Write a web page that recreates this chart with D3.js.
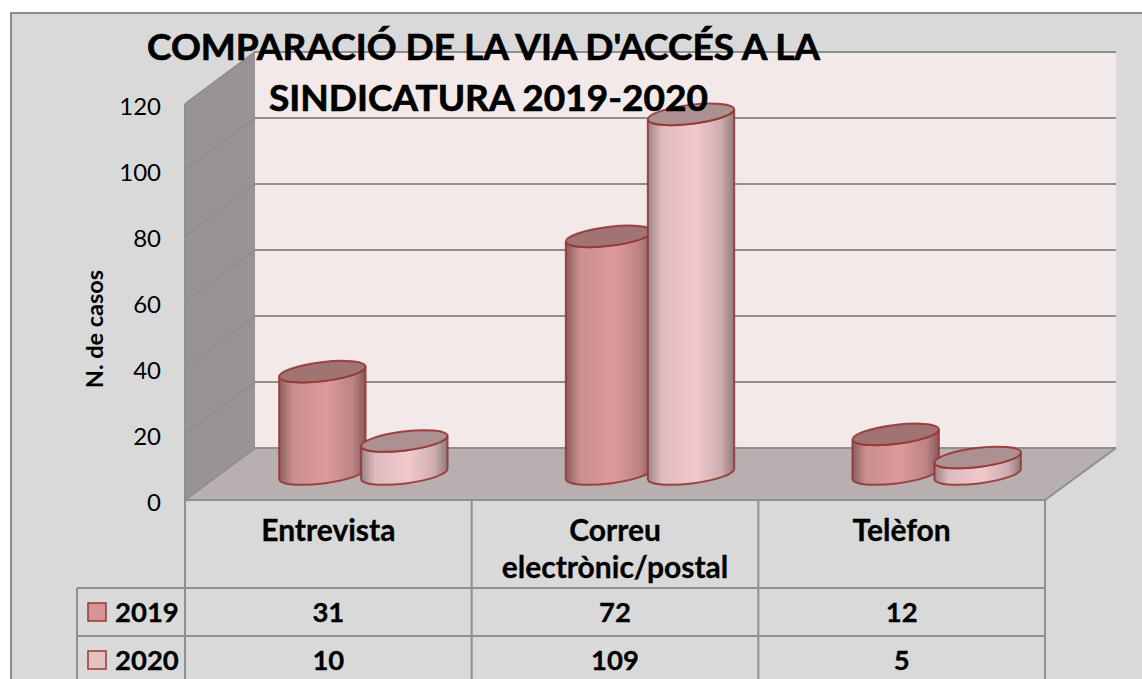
<!DOCTYPE html>
<html>
<head>
<meta charset="utf-8">
<script src="https://cdn.jsdelivr.net/npm/d3@7/dist/d3.min.js"></script>
<style>
  html, body { margin: 0; padding: 0; background: #fff; overflow: hidden; }
  text { font-family: Lato, "Open Sans", sans-serif; fill: #000; }
</style>
</head>
<body>
<svg id="chart" width="1142" height="679" style="display:block"></svg>
<script>
const categories = ["Entrevista", "Correu electrònic/postal", "Telèfon"];
const categoryLines = [["Entrevista"], ["Correu", "electrònic/postal"], ["Telèfon"]];
const seriesNames = ["2019", "2020"];
const values2019 = [31, 72, 12];
const values2020 = [10, 109, 5];
const seriesValues = [values2019, values2020];
const yTicks = [0, 20, 40, 60, 80, 100, 120];
const titleLines = ["COMPARACIÓ DE LA VIA D'ACCÉS A LA", "SINDICATURA 2019-2020"];

const GRID = "#8f8f8f";
const EDGE = "#953735";

// depth of the fake 3D box, the cylinders stand halfway in it
const depthX = 70, depthY = 52;

const x = d3.scaleBand().domain(categories).range([185, 1045]);
const y = d3.scaleLinear().domain([0, 120]).range([500, 104]);
const inner = d3.scaleBand().domain(seriesNames).range([-82, 82]).padding(0);

const svg = d3.select("#chart");

/* gradients for the cylinder bodies, dark at both edges */
const defs = svg.append("defs");
function bodyGradient(id, edgeL, mid, edgeR) {
    const g = defs.append("linearGradient").attr("id", id);
    g.append("stop").attr("offset", "0%").attr("stop-color", edgeL);
    g.append("stop").attr("offset", "16%").attr("stop-color", d3.interpolateRgb(edgeL, mid)(0.8));
    g.append("stop").attr("offset", "55%").attr("stop-color", mid);
    g.append("stop").attr("offset", "85%").attr("stop-color", d3.interpolateRgb(mid, edgeR)(0.35));
    g.append("stop").attr("offset", "100%").attr("stop-color", edgeR);
}
bodyGradient("body2019", "#8a5f5e", "#dc9a9c", "#875b5a");
bodyGradient("body2020", "#9a8484", "#f0c9cb", "#8f7a7a");
const capFill = ["#a17373", "#ad9091"];
const legendFill = ["#d69495", "#e6c1c2"];

// background
svg.append("rect").attr("width", 1142).attr("height", 679).attr("fill", "#fff");
svg.append("rect").attr("x", 11).attr("y", 13).attr("width", 1135).attr("height", 670)
    .attr("fill", "#d9d9d9").attr("stroke", "#8c8c8c").attr("stroke-width", 2);

const [x0, x1] = x.range();
const yBase = y(0), yTop = y(120);
const backPt = (px, py) => [px + depthX, py - depthY];
const line = d3.line();

// back wall, side wall, floor
svg.append("rect")
    .attr("x", x0 + depthX).attr("y", yTop - depthY)
    .attr("width", x1 - x0 + 1).attr("height", yBase - yTop)
    .attr("fill", "#f4e9e9");
svg.append("path")
    .attr("d", line([[x0, yTop], backPt(x0, yTop), backPt(x0, yBase), [x0, yBase]]) + "Z")
    .attr("fill", "#999393");
svg.append("path")
    .attr("d", line([[x0, yBase], backPt(x0, yBase), backPt(x1 + 1, yBase), [x1, yBase]]) + "Z")
    .attr("fill", "#b7afb0");

// gridlines run along the side wall then across the back
const grid = svg.append("g").attr("fill", "none").attr("stroke", GRID).attr("stroke-width", 2);
grid.selectAll("path")
    .data(yTicks)
    .enter()
    .append("path")
    .attr("d", d => line([[x0, y(d)], backPt(x0, y(d)), backPt(x1 + 1, y(d))]));
grid.append("path").attr("d", line([[x0, yTop], [x0, yBase], [x1, yBase], backPt(x1 + 1, yBase)]));

// cylinders
const rx = 43.5, ry = 9.5, tilt = -7;
const midDepthX = depthX / 2, midDepthY = depthY / 2;
const bars = [];
categories.forEach((c, i) => {
    seriesNames.forEach((s, j) => {
        bars.push({ c, s, j, v: seriesValues[j][i] });
    });
});

const rad = tilt * Math.PI / 180;
const dx = rx * Math.cos(rad), dy = rx * Math.sin(rad);
const barX = d => x(d.c) + x.bandwidth() / 2 + midDepthX + inner(d.s) + inner.bandwidth() / 2;

function bodyPath(d) {
    const cx = barX(d);
    const b = y(0) - midDepthY, t = y(d.v) - midDepthY;
    return `M${cx - dx},${t - dy}L${cx - dx},${b - dy}` +
        `A${rx},${ry} ${tilt} 0 0 ${cx + dx},${b + dy}` +
        `L${cx + dx},${t + dy}A${rx},${ry} ${tilt} 0 1 ${cx - dx},${t - dy}Z`;
}

const barGroup = svg.append("g");
const bar = barGroup.selectAll("g").data(bars).enter().append("g");
bar.append("path")
    .attr("d", bodyPath)
    .attr("fill", d => `url(#body${d.s})`)
    .attr("stroke", EDGE).attr("stroke-width", 2).attr("stroke-opacity", 0.9);
bar.append("ellipse")
    .attr("cx", 0).attr("cy", 0).attr("rx", rx).attr("ry", ry)
    .attr("transform", d => `translate(${barX(d)},${y(d.v) - midDepthY}) rotate(${tilt})`)
    .attr("fill", d => capFill[d.j])
    .attr("stroke", EDGE).attr("stroke-width", 2).attr("stroke-opacity", 0.9);

// y axis
const yAxis = d3.axisLeft(y).tickValues(yTicks).tickSize(0).tickPadding(24);
const yG = svg.append("g").attr("transform", `translate(${x0},3)`).call(yAxis);
yG.select(".domain").remove();
yG.selectAll("text").attr("font-size", 24).style("font-family", "Lato, sans-serif").attr("fill", "#000");

svg.append("text")
    .attr("transform", "translate(103,329) rotate(-90)")
    .attr("text-anchor", "middle")
    .attr("font-size", 23.5).attr("font-weight", 700)
    .text("N. de casos");

// title
svg.append("text")
    .attr("text-anchor", "start").attr("font-size", 37).attr("font-weight", 700)
    .attr("stroke", "#000").attr("stroke-width", 0.7)
    .selectAll("tspan")
    .data(titleLines)
    .enter()
    .append("tspan")
    .attr("x", (d, i) => i === 0 ? 147 : 269)
    .attr("y", (d, i) => i === 0 ? 60 : 111)
    .text(d => d);

// data table
const rowY = [500, 588, 636, 679];
const table = svg.append("g").attr("stroke", GRID).attr("stroke-width", 2);
[x0].concat(categories.map(c => x(c) + x.bandwidth())).forEach(px => {
    table.append("line").attr("x1", px).attr("x2", px).attr("y1", rowY[0]).attr("y2", rowY[3]);
});
table.append("line").attr("x1", 77).attr("x2", 77).attr("y1", rowY[1]).attr("y2", rowY[3]);
[rowY[1], rowY[2]].forEach(py => {
    table.append("line").attr("x1", 77).attr("x2", x1).attr("y1", py).attr("y2", py);
});

const labelFont = 30, numFont = 27.5;
categories.forEach((c, i) => {
    const cx = x(c) + x.bandwidth() / 2;
    categoryLines[i].forEach((l, k) => {
        svg.append("text")
            .attr("x", cx).attr("y", 541 + k * 37)
            .attr("text-anchor", "middle").attr("font-size", labelFont).attr("font-weight", 700)
            .attr("stroke", "#000").attr("stroke-width", 0.3)
            .text(l);
    });
    seriesNames.forEach((s, j) => {
        svg.append("text")
            .attr("x", cx).attr("y", rowY[j + 1] + 34)
            .attr("text-anchor", "middle").attr("font-size", numFont).attr("font-weight", 700)
            .attr("stroke", "#000").attr("stroke-width", 0.3)
            .text(seriesValues[j][i]);
    });
});
seriesNames.forEach((s, j) => {
    svg.append("rect")
        .attr("x", 88).attr("y", rowY[j + 1] + 15).attr("width", 18).attr("height", 18)
        .attr("fill", legendFill[j]).attr("stroke", EDGE).attr("stroke-width", 1.5);
    svg.append("text")
        .attr("x", 115).attr("y", rowY[j + 1] + 34)
        .attr("font-size", numFont).attr("font-weight", 700)
        .attr("stroke", "#000").attr("stroke-width", 0.3)
        .text(s);
});
</script>
</body>
</html>
